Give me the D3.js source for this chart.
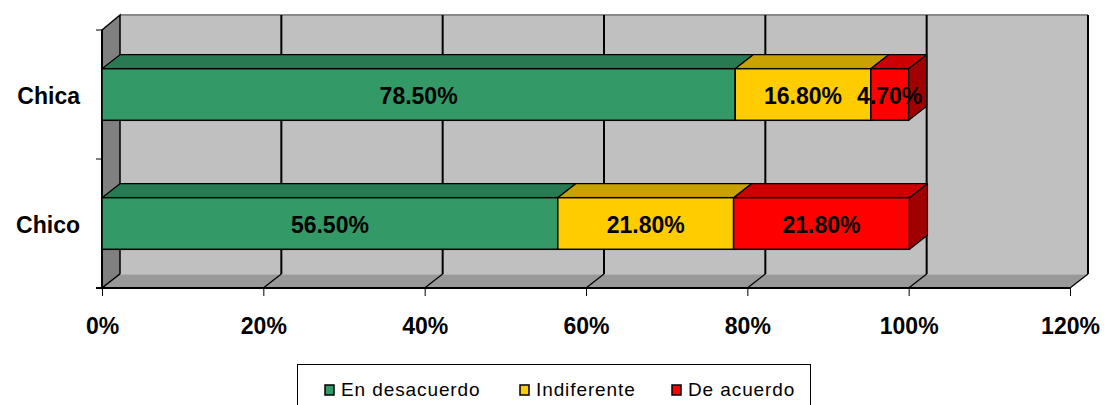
<!DOCTYPE html>
<html>
<head>
<meta charset="utf-8">
<script src="https://cdn.jsdelivr.net/npm/d3@7"></script>
<style>
  html, body { margin: 0; padding: 0; background: #fff; }
  svg { display: block; font-family: "Liberation Sans", Arial, sans-serif; }
</style>
</head>
<body>
<svg id="chart" width="1108" height="405"></svg>
<script>
// Survey answers by group, stacked to 100%
const categories = ["Chica", "Chico"];
const seriesNames = ["En desacuerdo", "Indiferente", "De acuerdo"];
const enDesacuerdo = [78.5, 56.5];
const indiferente = [16.8, 21.8];
const deAcuerdo = [4.7, 21.8];
const tickValues = [0, 20, 40, 60, 80, 100, 120];

// face colours: front, top, side
const palette = [
  { front: "#339966", top: "#287a52", side: "#1f5c3e" },
  { front: "#FFCC00", top: "#C9A100", side: "#A08000" },
  { front: "#FF0000", top: "#CC0000", side: "#A00000" }
];

const svg = d3.select("#chart");

// front plane of the 3D box
const plotL = 102, plotR = 1070, plotT = 30, plotB = 288;
// depth offset of the back wall
const DX = 18, DY = -14;

const x = d3.scaleLinear().domain([0, 120]).range([plotL, plotR]);
const y = d3.scaleBand().domain(categories).range([plotT, plotB])
  .paddingInner(0.6).paddingOuter(0.3);

const poly = pts => "M" + pts.map(p => p.join(",")).join("L") + "Z";

// back wall
svg.append("path")
  .attr("d", poly([[plotL + DX, plotT + DY - 1], [plotR + DX, plotT + DY - 1], [plotR + DX, plotB + DY], [plotL + DX, plotB + DY]]))
  .attr("fill", "#C0C0C0");
svg.append("line")
  .attr("x1", plotL + DX).attr("x2", plotR + DX)
  .attr("y1", plotT + DY - 1).attr("y2", plotT + DY - 1)
  .attr("stroke", "#8a8a8a").attr("stroke-width", 2);

// left side wall
svg.append("path")
  .attr("d", poly([[plotL, plotT], [plotL + DX, plotT + DY - 1], [plotL + DX, plotB + DY], [plotL, plotB]]))
  .attr("fill", "#808080").attr("stroke", "#000").attr("stroke-width", 1.5);

// floor
svg.append("path")
  .attr("d", poly([[plotL, plotB], [plotL + DX, plotB + DY], [plotR + DX, plotB + DY], [plotR, plotB]]))
  .attr("fill", "#999999");
svg.append("line")
  .attr("x1", plotL + DX).attr("x2", plotR + DX)
  .attr("y1", plotB + DY + 0.5).attr("y2", plotB + DY + 0.5)
  .attr("stroke", "#b0b0b0").attr("stroke-width", 1);

// gridlines on back wall and floor
const grid = svg.append("g");
tickValues.forEach(v => {
  const gx = x(v);
  if (v > 0) {
    grid.append("line")
      .attr("x1", gx + DX).attr("x2", gx + DX)
      .attr("y1", plotT + DY - 1).attr("y2", plotB + DY)
      .attr("stroke", "#000").attr("stroke-width", 2);
  }
  grid.append("line")
    .attr("x1", gx).attr("y1", plotB)
    .attr("x2", gx + DX).attr("y2", plotB + DY)
    .attr("stroke", "#000").attr("stroke-width", 1.2);
});

// x axis
const xAxis = svg.append("g").attr("transform", `translate(0,${plotB})`)
  .call(d3.axisBottom(x).tickValues(tickValues).tickSize(8).tickPadding(22)
    .tickFormat(d => d + "%"));
xAxis.select(".domain").attr("stroke", "#000").attr("stroke-width", 2)
  .attr("d", `M${plotL - 6},0H${plotR}`);
xAxis.selectAll(".tick line").attr("stroke", "#000").attr("stroke-width", 1);
xAxis.selectAll(".tick text")
  .attr("font-family", "Liberation Sans, Arial, sans-serif")
  .attr("font-size", 23).attr("font-weight", "bold").attr("fill", "#000");

// y axis
const yAxis = svg.append("g").attr("transform", `translate(${plotL},0)`);
yAxis.append("line")
  .attr("x1", 0).attr("x2", 0).attr("y1", plotT).attr("y2", plotB)
  .attr("stroke", "#000").attr("stroke-width", 2);
const step = y.step();
[plotT, plotT + step, plotB].forEach(t => {
  yAxis.append("line").attr("x1", -6).attr("x2", 0).attr("y1", t).attr("y2", t)
    .attr("stroke", "#000").attr("stroke-width", 1);
});
categories.forEach(c => {
  yAxis.append("text")
    .attr("x", -22).attr("y", y(c) + y.bandwidth() / 2 + 9)
    .attr("text-anchor", "end")
    .attr("font-size", 23).attr("font-weight", "bold").attr("fill", "#000")
    .text(c);
});

// stacked 3D bars
const rows = categories.map((c, i) => ({
  cat: c,
  vals: [enDesacuerdo[i], indiferente[i], deAcuerdo[i]]
}));

const bars = svg.append("g");
rows.forEach(r => {
  const y0 = y(r.cat), y1 = y0 + y.bandwidth();
  let acc = 0;
  const segs = r.vals.map((v, k) => {
    const s = { k, v, a: acc, b: acc + v };
    acc += v;
    return s;
  });
  segs.forEach(s => {
    const xa = x(s.a), xb = x(s.b), col = palette[s.k];
    // top face
    bars.append("path")
      .attr("d", poly([[xa, y0], [xa + DX, y0 + DY], [xb + DX, y0 + DY], [xb, y0]]))
      .attr("fill", col.top).attr("stroke", "#000").attr("stroke-width", 1.2)
      .attr("stroke-linejoin", "round");
    // front face
    bars.append("rect")
      .attr("x", xa).attr("y", y0).attr("width", xb - xa).attr("height", y1 - y0)
      .attr("fill", col.front).attr("stroke", "#000").attr("stroke-width", 1.5);
  });
  // right side face of the last segment
  const last = segs[segs.length - 1], xe = x(last.b);
  bars.append("path")
    .attr("d", poly([[xe, y0], [xe + DX, y0 + DY], [xe + DX, y1 + DY], [xe, y1]]))
    .attr("fill", palette[last.k].side).attr("stroke", "#000").attr("stroke-width", 1.2)
    .attr("stroke-linejoin", "round");
  // value labels
  segs.forEach(s => {
    bars.append("text")
      .attr("x", (x(s.a) + x(s.b)) / 2)
      .attr("y", (y0 + y1) / 2 + 9)
      .attr("text-anchor", "middle")
      .attr("font-size", 23).attr("font-weight", "bold").attr("fill", "#000")
      .text(s.v.toFixed(2) + "%");
  });
});

// legend
const legend = svg.append("g");
legend.append("rect")
  .attr("x", 297.5).attr("y", 364.5).attr("width", 513).attr("height", 60)
  .attr("fill", "#fff").attr("stroke", "#000").attr("stroke-width", 1);
const legendX = [325, 520, 672];
seriesNames.forEach((name, k) => {
  legend.append("rect")
    .attr("x", legendX[k]).attr("y", 385).attr("width", 9).attr("height", 10)
    .attr("fill", palette[k].front).attr("stroke", "#000").attr("stroke-width", 1.5);
  legend.append("text")
    .attr("x", legendX[k] + 16).attr("y", 396)
    .attr("font-size", 19).attr("letter-spacing", 0.9).attr("fill", "#000")
    .text(name);
});
</script>
</body>
</html>
